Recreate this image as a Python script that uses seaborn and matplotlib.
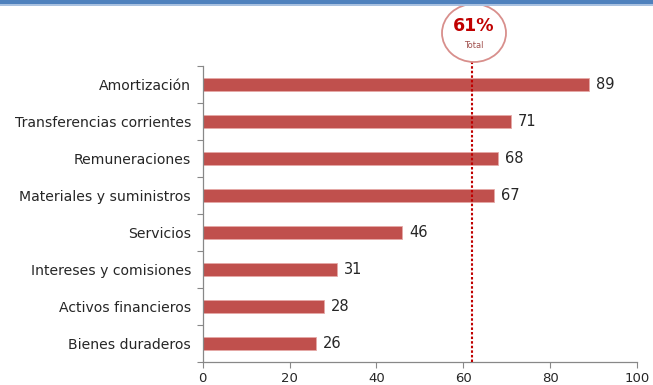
import matplotlib
matplotlib.use("Agg")
import matplotlib.pyplot as plt
import seaborn as sns
import pandas as pd
from matplotlib.patches import Ellipse, Rectangle
from matplotlib.ticker import FixedLocator, NullLocator

categories = ["Amortización", "Transferencias corrientes", "Remuneraciones",
              "Materiales y suministros", "Servicios", "Intereses y comisiones",
              "Activos financieros", "Bienes duraderos"]
values = [89, 71, 68, 67, 46, 31, 28, 26]
xticks = [0, 20, 40, 60, 80, 100]
total_line = 62
total_label = "61%"
total_sub = "Total"

df = pd.DataFrame({"cat": categories, "val": values})

sns.set_style("white")
plt.rcParams['font.family'] = ['DejaVu Sans']

W, H = 653, 385
fig = plt.figure(figsize=(W / 100, H / 100), dpi=100)
ax = fig.add_axes([202.7 / W, 1 - 362 / H, (637 - 202.7) / W, (362 - 66) / H])

sns.barplot(data=df, x="val", y="cat", order=categories, color="#C0504D",
            saturation=1, width=0.37, ax=ax)
for p in ax.patches:
    p.set_edgecolor("#E6A9A7")
    p.set_linewidth(0.6)

for i, v in enumerate(values):
    ax.text(v + 1.6, i, str(v), va="center", ha="left", fontsize=10.5, color="#262626")

ax.set_xlim(0, 100)
ax.set_ylim(len(categories) - 0.5, -0.5)
ax.set_xlabel("")
ax.set_ylabel("")
ax.xaxis.set_major_locator(FixedLocator(xticks))
ax.set_xticklabels([str(t) for t in xticks], fontsize=9.5, color="#262626")
ax.tick_params(axis="x", which="major", bottom=True, direction="out", length=4,
               width=0.8, color="#888888", pad=3)
ax.tick_params(axis="y", which="major", left=True, length=0, pad=8.5,
               labelsize=10.1, labelcolor="#262626")
ax.yaxis.set_minor_locator(FixedLocator([i - 0.5 for i in range(len(categories) + 1)]))
ax.tick_params(axis="y", which="minor", left=True, direction="out", length=4,
               width=0.8, color="#888888")
ax.xaxis.set_minor_locator(NullLocator())

for s in ["top", "right"]:
    ax.spines[s].set_visible(False)
for s in ["left", "bottom"]:
    ax.spines[s].set_color("#888888")
    ax.spines[s].set_linewidth(0.9)

# dotted total line
ax.plot([total_line, total_line], [len(categories) - 0.5, -0.61], color="#C00000",
        linestyle=(0, (1.2, 1.0)), linewidth=1.5, clip_on=False, zorder=3)

# circle label
cx, cy = 474, 33
fig.patches.append(Ellipse((cx / W, 1 - cy / H), 64 / W, 58 / H, transform=fig.transFigure,
                           facecolor="white", edgecolor="#D88F8C", linewidth=1.3))
fig.text(cx / W, 1 - 26 / H, total_label, ha="center", va="center", fontsize=12.5,
         fontweight="bold", color="#C00000")
fig.text(cx / W, 1 - 46 / H, total_sub, ha="center", va="center", fontsize=6,
         color="#A0504D")

# top blue band
fig.patches.append(Rectangle((0, 1 - 4 / H), 1, 4 / H, transform=fig.transFigure,
                             facecolor="#4F81BD", edgecolor="none"))
fig.patches.append(Rectangle((0, 1 - 5.5 / H), 1, 1.5 / H, transform=fig.transFigure,
                             facecolor="#A9C1E0", edgecolor="none"))

fig.savefig("out.png", dpi=100)
